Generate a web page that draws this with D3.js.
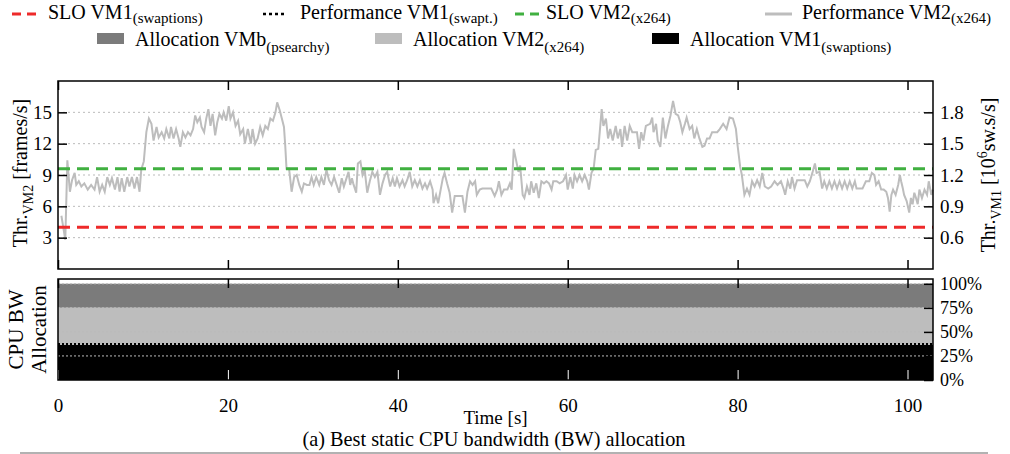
<!DOCTYPE html>
<html>
<head>
<meta charset="utf-8">
<script src="https://cdn.jsdelivr.net/npm/d3@7"></script>
<style>
    body { margin: 0; background: #fff; }
    svg { display: block; }
    text { font-family: "Liberation Serif", "Times New Roman", serif; fill: #000; }
</style>
</head>
<body>
<div id="chart"></div>
<script>
// Time axis ticks and axis ticks
const timeTicks = [0, 20, 40, 60, 80, 100];
const leftTicks = [3, 6, 9, 12, 15];
const rightTicks = [0.6, 0.9, 1.2, 1.5, 1.8];
const allocTicks = [0, 25, 50, 75, 100];

// SLO levels (VM2 on left axis in frames/s, VM1 on right axis in 10^6 sw.s/s)
const sloVM2 = 9.6;
const sloVM1 = 0.7;

// Performance of VM2 (x264), frames/s
const perfTime = [
    0.4, 0.86, 1.1, 1.4, 1.65, 1.96, 2.15, 2.45, 2.75, 3.1, 3.5, 3.9, 4.3, 4.6, 4.9, 5.2, 5.5, 5.8, 6.1, 6.35,
    6.7, 7.0, 7.25, 7.5, 7.8, 8.15, 8.4, 8.7, 9.0, 9.3, 9.6, 9.8, 10.1, 10.4, 10.7, 11.0, 11.25, 11.6, 11.85, 12.2,
    12.5, 12.75, 13.1, 13.3, 13.6, 13.9, 14.2, 14.4, 14.7, 15.0, 15.3, 15.6, 15.9, 16.15, 16.4, 16.7, 16.9, 17.2, 17.45, 17.7,
    17.95, 18.2, 18.5, 18.75, 19.0, 19.3, 19.5, 19.8, 20.1, 20.3, 20.6, 20.9, 21.2, 21.45, 21.8, 22.0, 22.35, 22.7, 22.9, 23.2,
    23.5, 23.8, 24.1, 24.4, 24.7, 25.0, 25.3, 25.6, 25.8, 26.1, 26.35, 26.6, 26.75, 26.9, 27.2, 27.5, 27.8, 28.1, 28.4, 28.7,
    28.95, 29.3, 29.6, 29.85, 30.1, 30.4, 30.75, 31.0, 31.3, 31.6, 31.9, 32.2, 32.5, 32.8, 33.1, 33.4, 33.65, 34.0, 34.2, 34.4,
    34.6, 34.75, 35.1, 35.3, 35.6, 35.85, 36.1, 36.4, 36.7, 37.0, 37.3, 37.6, 37.9, 38.2, 38.5, 38.75, 39.1, 39.4, 39.65, 39.9,
    40.2, 40.55, 40.8, 41.1, 41.4, 41.7, 42.0, 42.3, 42.6, 42.9, 43.2, 43.45, 43.8, 44.1, 44.2, 44.5, 44.75, 45.0, 45.3, 45.5,
    45.8, 46.1, 46.4, 46.7, 47.0, 47.3, 47.6, 47.9, 48.2, 48.5, 48.8, 49.1, 49.3, 49.65, 49.95, 50.4, 51.0, 51.4, 51.7, 51.9,
    52.2, 52.5, 52.9, 53.2, 53.4, 53.65, 53.95, 54.2, 54.4, 54.7, 54.9, 55.2, 55.5, 55.7, 56.0, 56.3, 56.6, 56.9, 57.2, 57.5,
    57.8, 58.1, 58.3, 58.7, 59.05, 59.45, 59.8, 60.0, 60.3, 60.6, 60.8, 61.1, 61.4, 61.7, 62.0, 62.3, 62.5, 62.8, 63.05, 63.3,
    63.6, 63.8, 64.0, 64.2, 64.5, 64.75, 65.0, 65.3, 65.65, 65.9, 66.2, 66.4, 66.7, 67.0, 67.3, 67.6, 68.15, 68.4, 68.65, 68.9,
    69.2, 69.7, 69.95, 70.1, 70.4, 70.6, 70.9, 71.2, 71.5, 71.8, 72.1, 72.4, 72.7, 73.0, 73.25, 73.5, 73.8, 74.0, 74.35, 74.65,
    74.9, 75.2, 75.5, 75.85, 76.1, 76.4, 76.7, 77.0, 77.6, 77.9, 78.3, 78.7, 79.05, 79.45, 79.8, 80.0, 80.3, 80.5, 80.8, 81.1,
    81.4, 81.7, 82.0, 82.3, 82.6, 82.9, 83.2, 83.6, 83.95, 84.35, 84.7, 85.1, 85.4, 85.6, 85.9, 86.2, 86.4, 86.7, 87.0, 87.9,
    88.2, 88.5, 88.8, 89.1, 89.3, 89.65, 89.95, 90.2, 90.5, 90.8, 91.1, 91.4, 91.7, 92.0, 92.3, 92.6, 92.9, 93.2, 93.5, 93.8,
    94.0, 94.7, 95.1, 95.5, 95.8, 96.1, 96.3, 96.6, 96.9, 97.2, 97.5, 97.7, 97.9, 98.1, 98.3, 98.6, 98.9, 99.1, 99.25, 99.45,
    99.6, 99.9, 100.2, 100.4, 100.6, 100.8, 101.0, 101.2, 101.4, 101.7, 102.0, 102.3, 102.5, 102.8, 102.98
];
const perfVM2 = [
    5.1, 2.8, 10.4, 7.4, 8.5, 9.2, 8.05, 8.4, 7.9, 8.2, 7.6, 8.05, 7.6, 8.8, 7.4, 8.05, 7.4, 8.8, 8.05, 8.7,
    7.6, 8.8, 7.4, 8.7, 7.4, 8.8, 7.9, 8.8, 7.7, 8.8, 7.4, 9.5, 10.3, 13.1, 14.4, 13.9, 12.3, 13.6, 12.6, 13.1,
    12.5, 13.4, 12.5, 13.6, 12.5, 13.4, 12.5, 11.7, 13.1, 12.6, 13.1, 12.8, 13.4, 14.7, 14.05, 14.5, 13.6, 13.1, 14.4, 15.3,
    13.7, 14.85, 12.8, 14.05, 14.85, 14.4, 15.0, 14.2, 15.6, 14.4, 15.0, 13.7, 14.2, 12.9, 13.4, 12.0, 13.4, 12.0, 13.4, 12.0,
    12.5, 13.6, 12.8, 13.7, 13.4, 14.4, 14.2, 15.0, 15.95, 15.2, 14.4, 13.6, 11.8, 9.6, 9.6, 7.4, 8.8, 9.0, 8.05, 7.4,
    8.2, 8.05, 8.05, 8.8, 8.05, 8.8, 8.05, 8.8, 8.05, 9.5, 8.5, 8.05, 8.8, 8.05, 7.3, 8.7, 7.9, 8.8, 9.3, 8.05,
    8.7, 8.2, 7.3, 10.1, 10.3, 9.0, 9.5, 7.3, 8.4, 9.3, 8.8, 9.3, 7.1, 8.2, 9.0, 9.3, 7.9, 8.7, 7.9, 8.7,
    7.9, 8.5, 7.9, 8.5, 9.3, 7.9, 8.5, 7.9, 8.5, 7.7, 8.2, 7.7, 8.4, 7.6, 6.3, 7.1, 6.3, 7.4, 8.7, 9.2,
    8.2, 7.3, 5.4, 7.0, 7.0, 7.0, 7.0, 5.4, 7.4, 8.4, 8.05, 8.4, 7.1, 7.6, 7.7, 7.7, 7.7, 7.0, 7.6, 8.4,
    7.1, 7.6, 7.6, 8.2, 7.6, 11.5, 10.3, 9.3, 9.9, 7.1, 6.8, 7.9, 7.1, 8.4, 7.3, 8.2, 6.8, 8.4, 8.2, 8.4,
    8.2, 7.6, 8.4, 8.4, 8.2, 8.4, 9.0, 7.6, 8.8, 7.7, 9.0, 8.4, 9.0, 8.4, 9.0, 8.4, 7.6, 9.2, 9.6, 11.4,
    11.5, 13.4, 15.3, 13.7, 14.4, 12.5, 13.4, 12.3, 13.7, 12.5, 13.4, 11.7, 13.7, 12.3, 13.7, 13.1, 13.1, 11.5, 13.1, 12.3,
    13.7, 13.9, 14.5, 13.1, 13.9, 12.3, 11.7, 14.5, 12.5, 13.7, 14.7, 16.1, 14.85, 14.7, 14.05, 13.1, 13.9, 14.5, 13.4, 13.7,
    12.5, 13.4, 12.5, 11.7, 11.8, 12.5, 12.5, 13.1, 13.1, 13.4, 13.9, 13.4, 14.5, 14.4, 13.4, 11.8, 9.8, 9.0, 7.1, 7.7,
    7.1, 8.4, 7.9, 8.5, 7.9, 9.2, 7.9, 7.7, 7.9, 8.4, 8.05, 8.4, 7.7, 7.1, 8.4, 7.7, 8.8, 7.7, 8.5, 8.5,
    7.9, 8.4, 9.2, 10.1, 9.2, 9.3, 7.7, 8.4, 7.7, 8.4, 7.7, 8.4, 7.7, 8.4, 7.7, 8.4, 7.7, 8.4, 7.7, 8.4,
    7.7, 7.7, 8.4, 8.4, 9.2, 9.0, 8.05, 8.4, 7.6, 7.6, 7.4, 6.8, 5.5, 7.1, 7.6, 7.1, 8.05, 9.0, 8.4, 7.7,
    7.1, 6.5, 5.4, 6.8, 6.2, 7.3, 6.8, 6.2, 7.6, 6.8, 7.6, 7.1, 8.4, 7.1, 7.6
];

// Static CPU bandwidth allocation, percent
const allocTime = [0, 103];
const allocVM1 = [36.5, 36.5];
const allocVM2 = [38.5, 38.5];
const allocVMb = [25, 25];

document.addEventListener("DOMContentLoaded", () => {
    const W = 1010, H = 454;
    const frame = { left: 58, right: 933, top1: 81, bottom1: 269, top2: 279, bottom2: 380 };
    const colors = {
        red: "#ee2a2a", green: "#40b040", perf: "#bdbdbd",
        vmb: "#7b7b7b", vm2: "#bdbdbd", vm1: "#000000", grid: "#bbbbbb"
    };

    const svg = d3.select("#chart").append("svg")
        .attr("width", W)
        .attr("height", H);

    // Scales
    const x = d3.scaleLinear().domain([0, 103]).range([frame.left, frame.right]);
    const yL = d3.scaleLinear().domain([0, 18]).range([frame.bottom1, frame.top1]);
    const yR = d3.scaleLinear().domain([0.3, 2.1]).range([frame.bottom1, frame.top1]);
    const yA = d3.scaleLinear().domain([0, 105]).range([frame.bottom2, frame.top2]);

    // Text with subscript / superscript parts
    function richText(sel, parts, size, subSize, subShift = 6) {
        let shift = 0;
        parts.forEach(p => {
            const target = p.sub ? subShift : p.sup ? -8 : 0;
            sel.append("tspan")
                .attr("dy", target - shift)
                .style("font-size", `${p.sub || p.sup ? subSize : size}px`)
                .text(p.t);
            shift = target;
        });
        return sel;
    }

    // ---------- Top panel ----------
    const top = svg.append("g");

    top.selectAll("line.grid")
        .data(leftTicks)
        .enter()
        .append("line")
        .attr("x1", frame.left).attr("x2", frame.right)
        .attr("y1", d => yL(d)).attr("y2", d => yL(d))
        .attr("stroke", colors.grid)
        .attr("stroke-width", 1)
        .attr("stroke-dasharray", "2,3");

    // Performance VM2
    const perfLine = d3.line()
        .x(d => x(d[0]))
        .y(d => yL(d[1]));
    top.append("path")
        .datum(perfTime.map((t, i) => [t, perfVM2[i]]))
        .attr("d", perfLine)
        .attr("fill", "none")
        .attr("stroke", colors.perf)
        .attr("stroke-width", 2);

    // SLO lines
    top.append("line")
        .attr("x1", frame.left).attr("x2", frame.right)
        .attr("y1", yL(sloVM2)).attr("y2", yL(sloVM2))
        .attr("stroke", colors.green).attr("stroke-width", 3)
        .attr("stroke-dasharray", "12,7");
    top.append("line")
        .attr("x1", frame.left).attr("x2", frame.right)
        .attr("y1", yR(sloVM1)).attr("y2", yR(sloVM1))
        .attr("stroke", colors.red).attr("stroke-width", 3)
        .attr("stroke-dasharray", "12,7");

    // Axes
    top.append("g")
        .attr("transform", `translate(${frame.left},0)`)
        .call(d3.axisLeft(yL).tickValues(leftTicks).tickSize(-9).tickPadding(6));
    top.append("g")
        .attr("transform", `translate(${frame.right},0)`)
        .call(d3.axisRight(yR).tickValues(rightTicks).tickSize(-9).tickPadding(7).tickFormat(d3.format(".1f")));
    top.append("g")
        .attr("transform", `translate(0,${frame.top1})`)
        .call(d3.axisTop(x).tickValues(timeTicks).tickSize(-9).tickFormat(""));
    top.append("g")
        .attr("transform", `translate(0,${frame.bottom1})`)
        .call(d3.axisBottom(x).tickValues(timeTicks).tickSize(-9).tickFormat(""));

    top.append("rect")
        .attr("x", frame.left).attr("y", frame.top1)
        .attr("width", frame.right - frame.left)
        .attr("height", frame.bottom1 - frame.top1)
        .attr("fill", "none").attr("stroke", "#000").attr("stroke-width", 1.5);

    // ---------- Bottom panel ----------
    const bot = svg.append("g");
    const allocRows = allocTime.map((t, i) => ({ t, vm1: allocVM1[i], vm2: allocVM2[i], vmb: allocVMb[i] }));
    const stacked = d3.stack().keys(["vm1", "vm2", "vmb"])(allocRows);
    const area = d3.area()
        .x(d => x(d.data.t))
        .y0(d => yA(d[0]))
        .y1(d => yA(d[1]));

    bot.selectAll("path.alloc")
        .data(stacked)
        .enter()
        .append("path")
        .attr("class", "alloc")
        .attr("d", area)
        .attr("fill", d => colors[d.key]);

    // jagged edge on top of VM1 allocation
    bot.append("path")
        .datum(allocRows)
        .attr("d", d3.line().x(d => x(d.t)).y(d => yA(d.vm1) - 1))
        .attr("fill", "none")
        .attr("stroke", "#000")
        .attr("stroke-width", 2)
        .attr("stroke-dasharray", "2,2");

    bot.selectAll("line.grid")
        .data(allocTicks.filter(d => d > 0))
        .enter()
        .append("line")
        .attr("x1", frame.left).attr("x2", frame.right)
        .attr("y1", d => yA(d)).attr("y2", d => yA(d))
        .attr("stroke", colors.grid)
        .attr("stroke-width", 1)
        .attr("stroke-dasharray", "2,2");

    const allocAxis = bot.append("g")
        .attr("transform", `translate(${frame.right},0)`)
        .call(d3.axisRight(yA).tickValues(allocTicks).tickSize(-9).tickPadding(7).tickFormat(d => `${d}%`));
    bot.append("g")
        .attr("transform", `translate(0,${frame.top2})`)
        .call(d3.axisTop(x).tickValues(timeTicks).tickSize(-9).tickFormat(""));
    const xAxis = bot.append("g")
        .attr("transform", `translate(0,${frame.bottom2})`)
        .call(d3.axisBottom(x).tickValues(timeTicks).tickSize(-10).tickPadding(19));
    xAxis.selectAll(".tick line").attr("stroke", "#fff");

    bot.append("rect")
        .attr("x", frame.left).attr("y", frame.top2)
        .attr("width", frame.right - frame.left)
        .attr("height", frame.bottom2 - frame.top2)
        .attr("fill", "none").attr("stroke", "#000").attr("stroke-width", 1.5);

    // Axis styling
    svg.selectAll(".domain").remove();
    svg.selectAll(".tick line").filter(function () { return d3.select(this).attr("stroke") !== "#fff"; })
        .attr("stroke", "#000").attr("stroke-width", 1.5);
    svg.selectAll(".tick text")
        .style("font-family", "Liberation Serif, serif")
        .style("font-size", "19px")
        .attr("fill", "#000");
    allocAxis.selectAll(".tick text").style("font-size", "18px");

    // ---------- Axis labels ----------
    richText(svg.append("text")
        .attr("transform", `translate(27,${(frame.top1 + frame.bottom1) / 2 - 2}) rotate(-90)`)
        .attr("text-anchor", "middle"),
        [{ t: "Thr." }, { t: "VM2", sub: true }, { t: " [frames/s]" }], 20, 14);

    richText(svg.append("text")
        .attr("transform", `translate(995,${(frame.top1 + frame.bottom1) / 2}) rotate(-90)`)
        .attr("text-anchor", "middle"),
        [{ t: "Thr." }, { t: "VM1", sub: true }, { t: " [10" }, { t: "6", sup: true }, { t: "sw.s/s]" }], 20, 14);

    svg.append("text")
        .attr("transform", `translate(23,${(frame.top2 + frame.bottom2) / 2}) rotate(-90)`)
        .attr("text-anchor", "middle")
        .style("font-size", "21px")
        .text("CPU BW");
    svg.append("text")
        .attr("transform", `translate(46,${(frame.top2 + frame.bottom2) / 2}) rotate(-90)`)
        .attr("text-anchor", "middle")
        .style("font-size", "21px")
        .text("Allocation");

    svg.append("text")
        .attr("x", (frame.left + frame.right) / 2)
        .attr("y", 424)
        .attr("text-anchor", "middle")
        .style("font-size", "19px")
        .text("Time [s]");

    svg.append("text")
        .attr("x", 494)
        .attr("y", 446)
        .attr("text-anchor", "middle")
        .style("font-size", "20.3px")
        .text("(a) Best static CPU bandwidth (BW) allocation");

    svg.append("line")
        .attr("x1", 20).attr("x2", 988)
        .attr("y1", 453).attr("y2", 453)
        .attr("stroke", "#999").attr("stroke-width", 1.5);

    // ---------- Legend ----------
    const legendItems = [
        { kind: "line", color: colors.red, dash: "9,6", x: 12, w: 24, row: 0, tx: 48, parts: [{ t: "SLO VM1" }, { t: "(swaptions)", sub: true }] },
        { kind: "line", color: "#000", dash: "3,3", x: 263, w: 21, row: 0, tx: 300, parts: [{ t: "Performance VM1" }, { t: "(swapt.)", sub: true }] },
        { kind: "line", color: colors.green, dash: "9,6", x: 515, w: 26, row: 0, tx: 546, parts: [{ t: "SLO VM2" }, { t: "(x264)", sub: true }] },
        { kind: "line", color: colors.perf, dash: null, x: 765, w: 27, row: 0, tx: 802, parts: [{ t: "Performance VM2" }, { t: "(x264)", sub: true }] },
        { kind: "box", color: colors.vmb, x: 97, w: 27, row: 1, tx: 135, parts: [{ t: "Allocation VMb" }, { t: "(psearchy)", sub: true }] },
        { kind: "box", color: colors.vm2, x: 375, w: 27, row: 1, tx: 413, parts: [{ t: "Allocation VM2" }, { t: "(x264)", sub: true }] },
        { kind: "box", color: colors.vm1, x: 652, w: 27, row: 1, tx: 690, parts: [{ t: "Allocation VM1" }, { t: "(swaptions)", sub: true }] }
    ];
    const rowY = [14, 39];
    const rowBase = [19, 46];

    legendItems.forEach(d => {
        if (d.kind === "line") {
            svg.append("line")
                .attr("x1", d.x).attr("x2", d.x + d.w)
                .attr("y1", rowY[d.row]).attr("y2", rowY[d.row])
                .attr("stroke", d.color).attr("stroke-width", d.dash === "3,3" ? 2.5 : 3)
                .attr("stroke-dasharray", d.dash);
        } else {
            svg.append("rect")
                .attr("x", d.x).attr("y", rowY[d.row] - 6)
                .attr("width", d.w).attr("height", 11)
                .attr("fill", d.color);
        }
        richText(svg.append("text").attr("x", d.tx).attr("y", rowBase[d.row]), d.parts, 20, 15, d.row === 0 ? 4 : 6);
    });
});
</script>
</body>
</html>
